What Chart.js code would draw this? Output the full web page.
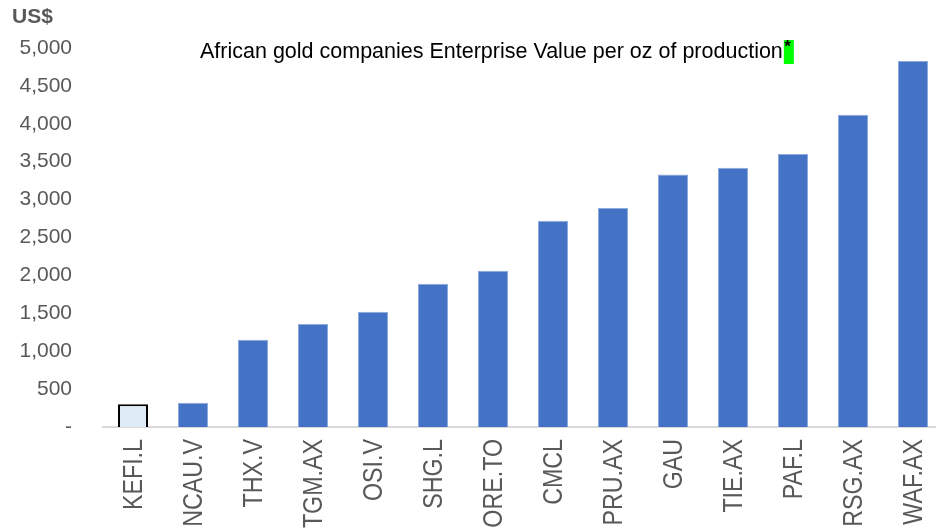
<!DOCTYPE html>
<html>
<head>
<meta charset="utf-8">
<script src="https://cdn.jsdelivr.net/npm/chart.js@4.4.0/dist/chart.umd.min.js"></script>
<style>
  html, body { margin: 0; background: #fff; overflow: hidden; }
  /* the source plot runs a few pixels past the right edge of the picture */
  #wrap { width: 943px; height: 532px; }
</style>
</head>
<body>
<div id="wrap"><canvas id="myChart"></canvas></div>
<script>
// data
const companies = ['KEFI.L', 'NCAU.V', 'THX.V', 'TGM.AX', 'OSI.V', 'SHG.L', 'ORE.TO',
  'CMCL', 'PRU.AX', 'GAU', 'TIE.AX', 'PAF.L', 'RSG.AX', 'WAF.AX'];
const evPerOz = [300, 320, 1150, 1360, 1520, 1890, 2060, 2720, 2890, 3330, 3420, 3600, 4120, 4830];
const yTicks = [0, 500, 1000, 1500, 2000, 2500, 3000, 3500, 4000, 4500, 5000];

const titleText = 'African gold companies Enterprise Value per oz of production';

// title, star, US$ label and the condensed, rotated category labels
const textPlugin = {
  id: 'textPlugin',
  afterDraw(chart) {
    const ctx = chart.ctx;
    ctx.save();
    ctx.font = 'bold 21px "Liberation Sans", Arial, sans-serif';
    ctx.fillStyle = '#595959';
    ctx.textBaseline = 'middle';
    ctx.textAlign = 'left';
    ctx.fillText('US$', 12, 17);

    ctx.font = '21.5px "Liberation Sans", Arial, sans-serif';
    ctx.fillStyle = '#000';
    const w = ctx.measureText(titleText).width;
    const x0 = 200;
    ctx.fillText(titleText, x0, 52);
    ctx.fillStyle = '#00FF00';
    ctx.fillRect(x0 + w + 1, 40, 10, 24);
    ctx.fillStyle = '#000';
    ctx.font = 'bold 17px "Liberation Sans", Arial, sans-serif';
    ctx.fillText('*', x0 + w + 1.5, 47);

    // category labels, rotated and narrowed like the source
    const xs = chart.scales.x;
    ctx.font = '28px "Liberation Sans", Arial, sans-serif';
    ctx.fillStyle = '#595959';
    ctx.textAlign = 'right';
    ctx.textBaseline = 'middle';
    companies.forEach((label, i) => {
      const px = xs.getPixelForTick(i);
      ctx.save();
      ctx.translate(px, xs.top + 12);
      ctx.rotate(-Math.PI / 2);
      ctx.scale(0.83, 1);
      ctx.fillText(label, 0, 1);
      ctx.restore();
    });
    ctx.restore();
  }
};

const ctx = document.getElementById('myChart');
new Chart(ctx, {
  type: 'bar',
  data: {
    labels: companies,
    datasets: [{
      label: 'EV per oz',
      data: evPerOz,
      backgroundColor: companies.map((c, i) => i === 0 ? '#DEEBF7' : '#4472C4'),
      borderColor: companies.map((c, i) => i === 0 ? '#000000' : '#8FAADC'),
      borderWidth: companies.map((c, i) => i === 0 ? 2 : 1),
      barPercentage: 0.5,
      categoryPercentage: 1.0
    }]
  },
  options: {
    responsive: true,
    maintainAspectRatio: false,
    animation: false,
    layout: { padding: { top: 48, right: 0, left: 0, bottom: 0 } },
    plugins: {
      legend: { display: false },
      tooltip: { enabled: false }
    },
    scales: {
      y: {
        min: 0,
        max: 5000,
        afterFit(scale) { scale.width = 103; },
        afterBuildTicks(scale) { scale.ticks = yTicks.map(v => ({ value: v })); },
        grid: { display: false, drawTicks: false },
        border: { display: false },
        ticks: {
          padding: 31,
          color: '#595959',
          font: { family: '"Liberation Sans", Arial, sans-serif', size: 21 },
          callback: v => v === 0 ? '-' : v.toLocaleString('en-US')
        }
      },
      x: {
        afterFit(scale) { scale.height = 105; },
        grid: { display: false, drawTicks: false },
        border: { display: true, color: '#D9D9D9', width: 2 },
        ticks: { display: false }
      }
    }
  },
  plugins: [textPlugin]
});
</script>
</body>
</html>
